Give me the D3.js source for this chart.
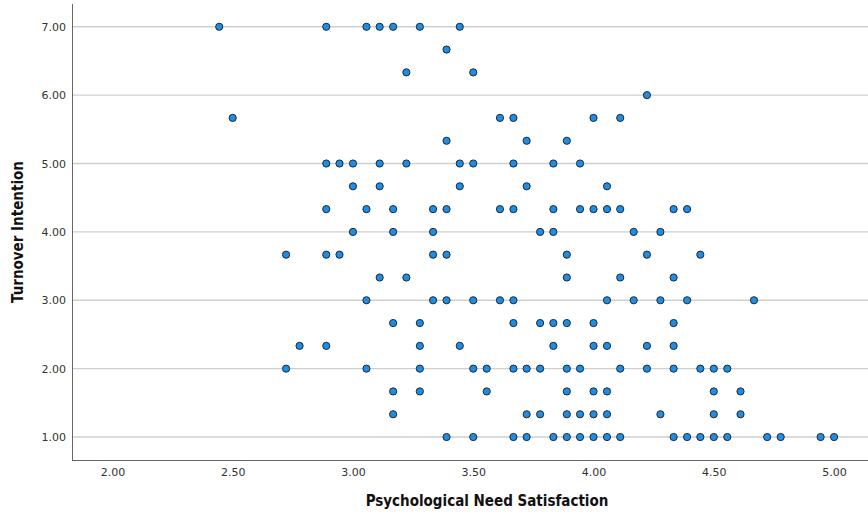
<!DOCTYPE html>
<html>
<head>
<meta charset="utf-8">
<script src="https://cdn.jsdelivr.net/npm/d3@7"></script>
<style>
  html, body { margin: 0; padding: 0; background: #fff; }
  svg { display: block; }
  .tick-label { font-family: "DejaVu Sans", sans-serif; font-size: 11px; fill: #333; }
  .axis-title { font-family: "Liberation Sans Narrow", "DejaVu Sans Condensed", "Roboto", sans-serif; font-weight: bold; font-size: 15px; fill: #111; }
</style>
</head>
<body>
<svg id="chart" width="868" height="517"></svg>
<script>
// Turnover Intention levels (y) and the Psychological Need Satisfaction
// scores (x) of the respondents found at each level.
const turnoverLevels = [7.00, 6.667, 6.333, 6.00, 5.667, 5.333, 5.00, 4.667, 4.333, 4.00,
                        3.667, 3.333, 3.00, 2.667, 2.333, 2.00, 1.667, 1.333, 1.00];
const satisfactionAtLevel = [
  [2.444, 2.889, 3.056, 3.111, 3.167, 3.278, 3.444],
  [3.389],
  [3.222, 3.500],
  [4.222],
  [2.500, 3.611, 3.667, 4.000, 4.111],
  [3.389, 3.722, 3.889],
  [2.889, 2.944, 3.000, 3.111, 3.222, 3.444, 3.500, 3.667, 3.833, 3.944],
  [3.000, 3.111, 3.444, 3.722, 4.056],
  [2.889, 3.056, 3.167, 3.333, 3.389, 3.611, 3.667, 3.833, 3.944, 4.000, 4.056, 4.111, 4.333, 4.389],
  [3.000, 3.167, 3.333, 3.778, 3.833, 4.167, 4.278],
  [2.722, 2.889, 2.944, 3.333, 3.389, 3.889, 4.222, 4.444],
  [3.111, 3.222, 3.889, 4.111, 4.333],
  [3.056, 3.333, 3.389, 3.500, 3.611, 3.667, 4.056, 4.167, 4.278, 4.389, 4.667],
  [3.167, 3.278, 3.667, 3.778, 3.833, 3.889, 4.000, 4.333],
  [2.778, 2.889, 3.278, 3.444, 3.833, 4.000, 4.056, 4.222, 4.333],
  [2.722, 3.056, 3.278, 3.500, 3.556, 3.667, 3.722, 3.778, 3.889, 3.944, 4.111, 4.222, 4.333, 4.444, 4.500, 4.556],
  [3.167, 3.278, 3.556, 3.889, 4.000, 4.056, 4.500, 4.611],
  [3.167, 3.722, 3.778, 3.889, 3.944, 4.000, 4.056, 4.278, 4.500, 4.611],
  [3.389, 3.500, 3.667, 3.722, 3.833, 3.889, 3.944, 4.000, 4.056, 4.111, 4.333, 4.389, 4.444, 4.500, 4.556, 4.722, 4.778, 4.944, 5.000]
];
const xTicks = [2.0, 2.5, 3.0, 3.5, 4.0, 4.5, 5.0];
const yTicks = [1, 2, 3, 4, 5, 6, 7];
const xTitle = "Psychological Need Satisfaction";
const yTitle = "Turnover Intention";

const points = turnoverLevels.flatMap((t, i) =>
  satisfactionAtLevel[i].map(s => ({ x: s, y: t })));

const svg = d3.select("#chart");
const plot = { left: 72, right: 868, top: 4, bottom: 460 };

const x = d3.scaleLinear().domain([1.832, 5.141]).range([plot.left, plot.right]);
const y = d3.scaleLinear().domain([0.664, 7.333]).range([plot.bottom, plot.top]);
const fmt = d3.format(".2f");

// horizontal reference lines at each y tick
svg.append("g")
  .selectAll("line")
  .data(yTicks)
  .join("line")
  .attr("x1", plot.left).attr("x2", plot.right)
  .attr("y1", d => y(d)).attr("y2", d => y(d))
  .attr("stroke", "#cfcfcf")
  .attr("stroke-width", 1.4);

// y axis
const yAxis = svg.append("g")
  .attr("transform", `translate(${plot.left},0)`)
  .call(d3.axisLeft(y).tickValues(yTicks).tickFormat(fmt).tickSize(0).tickPadding(6));
yAxis.select(".domain").attr("stroke", "#666").attr("d", `M0.5,${plot.top}V${plot.bottom}`);
yAxis.selectAll("text").attr("class", "tick-label").attr("font-size", null).attr("font-family", null);

// x axis
const xAxis = svg.append("g")
  .attr("transform", `translate(0,${plot.bottom})`)
  .call(d3.axisBottom(x).tickValues(xTicks).tickFormat(fmt).tickSize(0).tickPadding(8));
xAxis.select(".domain").attr("stroke", "#666").attr("d", `M${plot.left},0.5H${plot.right}`);
xAxis.selectAll("text").attr("class", "tick-label").attr("font-size", null).attr("font-family", null);

// axis titles
svg.append("text")
  .attr("class", "axis-title")
  .attr("x", 487).attr("y", 506)
  .attr("text-anchor", "middle")
  .text(xTitle);

svg.append("text")
  .attr("class", "axis-title")
  .attr("transform", "translate(23,232) rotate(-90)")
  .attr("text-anchor", "middle")
  .text(yTitle);

// scatter points
svg.append("g")
  .selectAll("circle")
  .data(points)
  .join("circle")
  .attr("cx", d => x(d.x))
  .attr("cy", d => y(d.y))
  .attr("r", 3.6)
  .attr("fill", "#1f8de3")
  .attr("stroke", "#1b2a38")
  .attr("stroke-width", 1);
</script>
</body>
</html>
